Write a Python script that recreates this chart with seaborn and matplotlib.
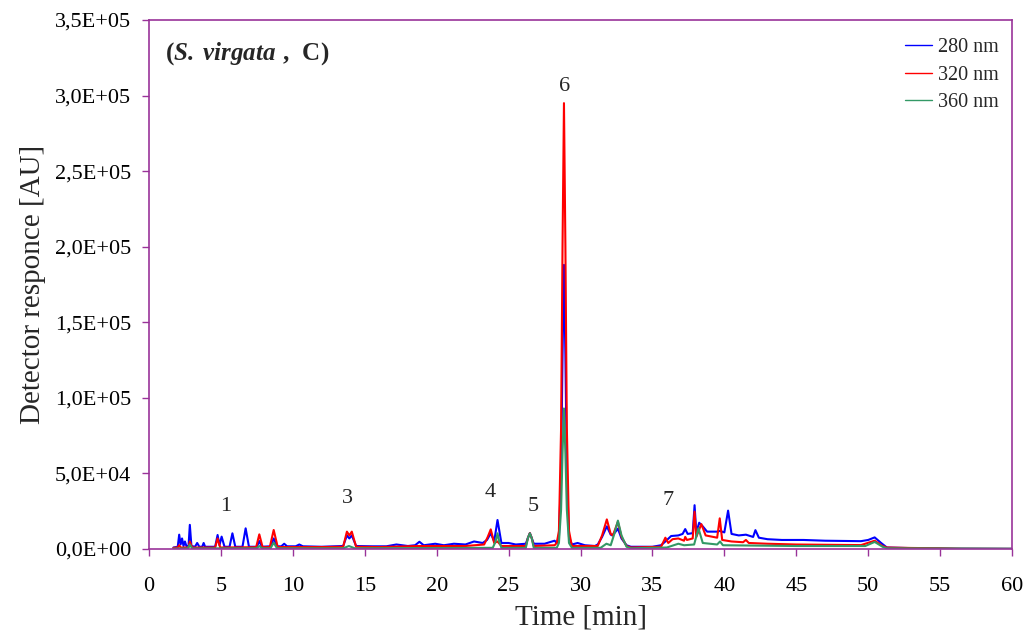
import seaborn as sns
import numpy as np
import pandas as pd
import matplotlib.pyplot as plt
from matplotlib.ticker import FuncFormatter

# chromatogram traces: time [min], response [x1000 AU]
t_280 = [1.7, 2.0, 2.1, 2.2, 2.3, 2.4, 2.5, 2.6, 2.75, 2.84, 2.95, 3.2, 3.35, 3.5, 3.7, 3.8, 3.9,
         4.6, 4.77, 4.9, 5.05, 5.25, 5.6, 5.8, 6.0, 6.5, 6.72, 6.95, 7.5, 7.67, 7.85, 8.45, 8.67,
         8.9, 9.2, 9.4, 9.6, 10.2, 10.45, 10.7, 12.0, 13.5, 13.76, 13.93, 14.1, 14.4, 15.5, 16.5,
         17.2, 18.0, 18.5, 18.8, 19.1, 19.9, 20.5, 21.2, 22.0, 22.6, 23.2, 23.5, 23.76, 24.0,
         24.23, 24.5, 25.0, 25.5, 26.2, 26.35, 26.48, 26.6, 26.75, 27.5, 28.2, 28.35, 28.5,
         28.65, 28.75, 28.85, 28.95, 29.05, 29.2, 29.4, 29.8, 30.3, 31.0, 31.2, 31.5, 31.83,
         32.1, 32.2, 32.4, 32.6, 32.85, 33.2, 33.5, 35.0, 35.6, 35.9, 36.3, 36.8, 37.1,
         37.28, 37.45, 37.8, 37.93, 38.05, 38.25, 38.5, 38.8, 39.5, 39.68, 40.0, 40.26, 40.5,
         41.0, 41.5, 42.0, 42.16, 42.4, 43.0, 44.0, 45.5, 47.0, 49.5, 50.0, 50.45, 50.9, 51.3,
         53.0, 56.0, 60.0]
v_280 = [1.0, 1.5, 9.5, 3.0, 7.0, 2.0, 5.0, 2.0, 2.0, 16.0, 2.0, 1.5, 4.0, 1.5, 1.5, 4.0, 1.5,
         1.5, 9.3, 2.5, 8.2, 1.5, 1.5, 10.4, 1.5, 1.5, 13.7, 1.5, 1.5, 5.3, 1.5, 1.8, 7.0,
         1.8, 1.8, 3.5, 1.8, 1.8, 3.0, 1.8, 1.5, 2.0, 9.0, 7.0, 9.0, 2.0, 1.8, 1.8,
         3.0, 2.0, 2.5, 4.8, 2.5, 3.5, 2.5, 3.5, 3.0, 5.0, 4.0, 6.0, 10.4, 5.0,
         19.2, 4.0, 4.0, 3.0, 3.5, 7.5, 10.5, 7.5, 3.5, 3.5, 5.5, 4.0, 8.0,
         50.0, 128.0, 188.0, 128.0, 50.0, 8.0, 3.0, 4.0, 2.5, 2.0, 3.0, 8.0, 15.0,
         9.5, 9.0, 11.0, 13.5, 7.0, 2.5, 1.5, 1.5, 2.5, 5.0, 8.6, 9.0, 10.0,
         13.2, 10.0, 10.5, 29.0, 11.0, 17.4, 15.0, 11.5, 11.5, 12.0, 11.0, 25.4, 10.0,
         9.0, 9.5, 8.0, 12.5, 7.5, 6.5, 6.0, 6.0, 5.5, 5.2, 6.0, 7.7, 4.0, 1.0,
         0.6, 0.2, 0.1]

t_320 = [1.7, 2.0, 2.1, 2.2, 2.75, 2.84, 3.0, 4.6, 4.77, 4.95, 7.45, 7.67, 7.9, 8.4, 8.67, 8.95,
         10.0, 12.0, 13.5, 13.76, 13.93, 14.1, 14.4, 16.0, 18.8, 20.0, 22.0, 23.3, 23.55, 23.76,
         24.0, 24.23, 24.5, 26.2, 26.35, 26.48, 26.6, 26.75, 28.2, 28.35, 28.5, 28.65, 28.75,
         28.85, 28.95, 29.05, 29.2, 29.4, 31.2, 31.5, 31.83, 32.1, 32.25, 32.6, 32.85, 33.2,
         33.5, 35.6, 35.9, 36.1, 36.4, 36.8, 37.2, 37.28, 37.4, 37.8, 37.93, 38.05, 38.4,
         38.7, 39.5, 39.68, 39.85, 40.5, 41.3, 41.5, 41.7, 43.0, 45.0, 49.5, 50.45, 51.0, 51.3,
         53.0, 55.0, 56.5, 60.0]
v_320 = [0.8, 1.0, 2.5, 1.0, 1.0, 5.0, 1.0, 1.0, 7.0, 1.0, 1.2, 9.7, 1.2, 1.3, 12.6, 1.3,
         1.3, 1.3, 1.5, 11.5, 9.0, 11.5, 1.5, 1.3, 2.0, 2.0, 2.0, 3.0, 8.0, 13.0,
         4.0, 5.0, 2.0, 2.0, 7.5, 10.5, 7.5, 2.0, 2.5, 4.0, 12.0, 80.0, 200.0,
         295.0, 200.0, 80.0, 12.0, 2.0, 2.0, 9.0, 19.6, 10.0, 9.0, 18.0, 8.0, 2.0,
         1.0, 1.5, 7.5, 4.0, 6.5, 7.0, 5.5, 8.0, 6.0, 7.0, 24.7, 8.0, 16.5,
         9.0, 7.5, 20.3, 6.0, 5.0, 4.5, 6.0, 4.0, 3.5, 3.0, 2.6, 5.5, 2.0, 1.0,
         0.7, 0.5, 0.2, 0.1]

t_360 = [1.7, 2.7, 2.84, 3.0, 7.5, 7.67, 7.85, 8.45, 8.67, 8.9, 13.5, 13.9, 14.3, 23.9, 24.1,
         24.23, 24.35, 24.5, 26.2, 26.35, 26.48, 26.6, 26.75, 28.35, 28.5, 28.65, 28.75, 28.85,
         28.95, 29.05, 29.2, 29.4, 31.4, 31.8, 32.1, 32.35, 32.6, 32.85, 33.2, 33.5, 36.0,
         36.8, 37.2, 37.9, 38.2, 38.5, 39.5, 39.7, 39.9, 45.0, 49.8, 50.45, 51.0, 51.3, 60.0]
v_360 = [0.3, 0.4, 3.0, 0.4, 0.5, 2.0, 0.5, 0.5, 4.2, 0.5, 0.5, 2.0, 0.5, 0.8, 5.0,
         10.4, 5.0, 0.8, 0.8, 7.5, 10.4, 7.5, 0.8, 0.8, 4.0, 26.0, 63.0, 93.0,
         63.0, 26.0, 4.0, 0.8, 0.8, 3.5, 2.5, 10.0, 18.8, 9.0, 1.5, 0.5, 1.0,
         3.5, 2.5, 3.0, 13.7, 4.0, 3.0, 5.0, 2.5, 2.0, 2.0, 4.7, 1.5, 0.5, 0.2]

series = ["280 nm", "320 nm", "360 nm"]
colors = ["#0000FF", "#FF0000", "#339966"]

peak_names = ["1", "3", "4", "5", "6", "7"]
peak_pos = [(5.3, 22), (13.8, 27), (23.7, 31), (26.7, 22), (28.9, 300), (36.1, 26)]

frames = []
for name, t, v in zip(series, [t_280, t_320, t_360], [v_280, v_320, v_360]):
    frames.append(pd.DataFrame({"time": t, "resp": np.array(v) * 1000, "wl": name}))
df = pd.concat(frames, ignore_index=True)

sns.set_theme(style="ticks")
plt.rcParams["font.family"] = ["Liberation Serif", "DejaVu Serif"]
plt.rcParams["mathtext.fontset"] = "custom"
plt.rcParams["mathtext.rm"] = "Liberation Serif"
plt.rcParams["mathtext.bf"] = "Liberation Serif:bold"
plt.rcParams["mathtext.bfit"] = "Liberation Serif:bold:italic"

fig = plt.figure(figsize=(10.31, 6.37), dpi=100)
ax = fig.add_axes([0.1445, 0.1381, 0.8371, 0.8305])

sns.lineplot(data=df, x="time", y="resp", hue="wl", palette=colors, hue_order=series,
             estimator=None, sort=False, linewidth=1.5, ax=ax)

purple = "#993399"
for s in ax.spines.values():
    s.set_color(purple)
    s.set_linewidth(1.2)
ax.tick_params(colors=purple, labelcolor="black", labelsize=16, length=5, width=1.0)
ax.tick_params(axis="x", pad=15)
ax.tick_params(axis="y", pad=8)

ax.set_xlim(0, 60)
ax.set_ylim(0, 3.5e5)
ax.set_xticks(range(0, 61, 5))
ax.set_yticks(np.arange(0, 3.5e5 + 1, 5e4))


def sci(v, pos):
    if v == 0:
        return "0,0E+00"
    e = int(np.floor(np.log10(abs(v))))
    return f"{v / 10 ** e:.1f}".replace(".", ",") + f"E+{e:02d}"


ax.yaxis.set_major_formatter(FuncFormatter(sci))
ax.set_xlabel("Time [min]", fontsize=21, labelpad=6)
ax.set_ylabel("Detector responce [AU]", fontsize=21, labelpad=6)

for lab, (x, y) in zip(peak_names, peak_pos):
    ax.text(x, y * 1000, lab, ha="center", va="bottom", fontsize=16)

ax.text(0.018, 0.962, r"$\mathbf{(}\mathbfit{S.}\,\mathbfit{virgata}\mathbf{\ ,\ C)}$",
        transform=ax.transAxes, fontsize=18, va="top", ha="left")

leg = ax.legend(loc="upper right", bbox_to_anchor=(1.006, 1.0), frameon=False, fontsize=14.5,
                handlelength=1.35, handletextpad=0.3, labelspacing=0.42, borderaxespad=0.5)
for line in leg.get_lines():
    line.set_linewidth(1.0)

fig.savefig("out.png", dpi=100)
